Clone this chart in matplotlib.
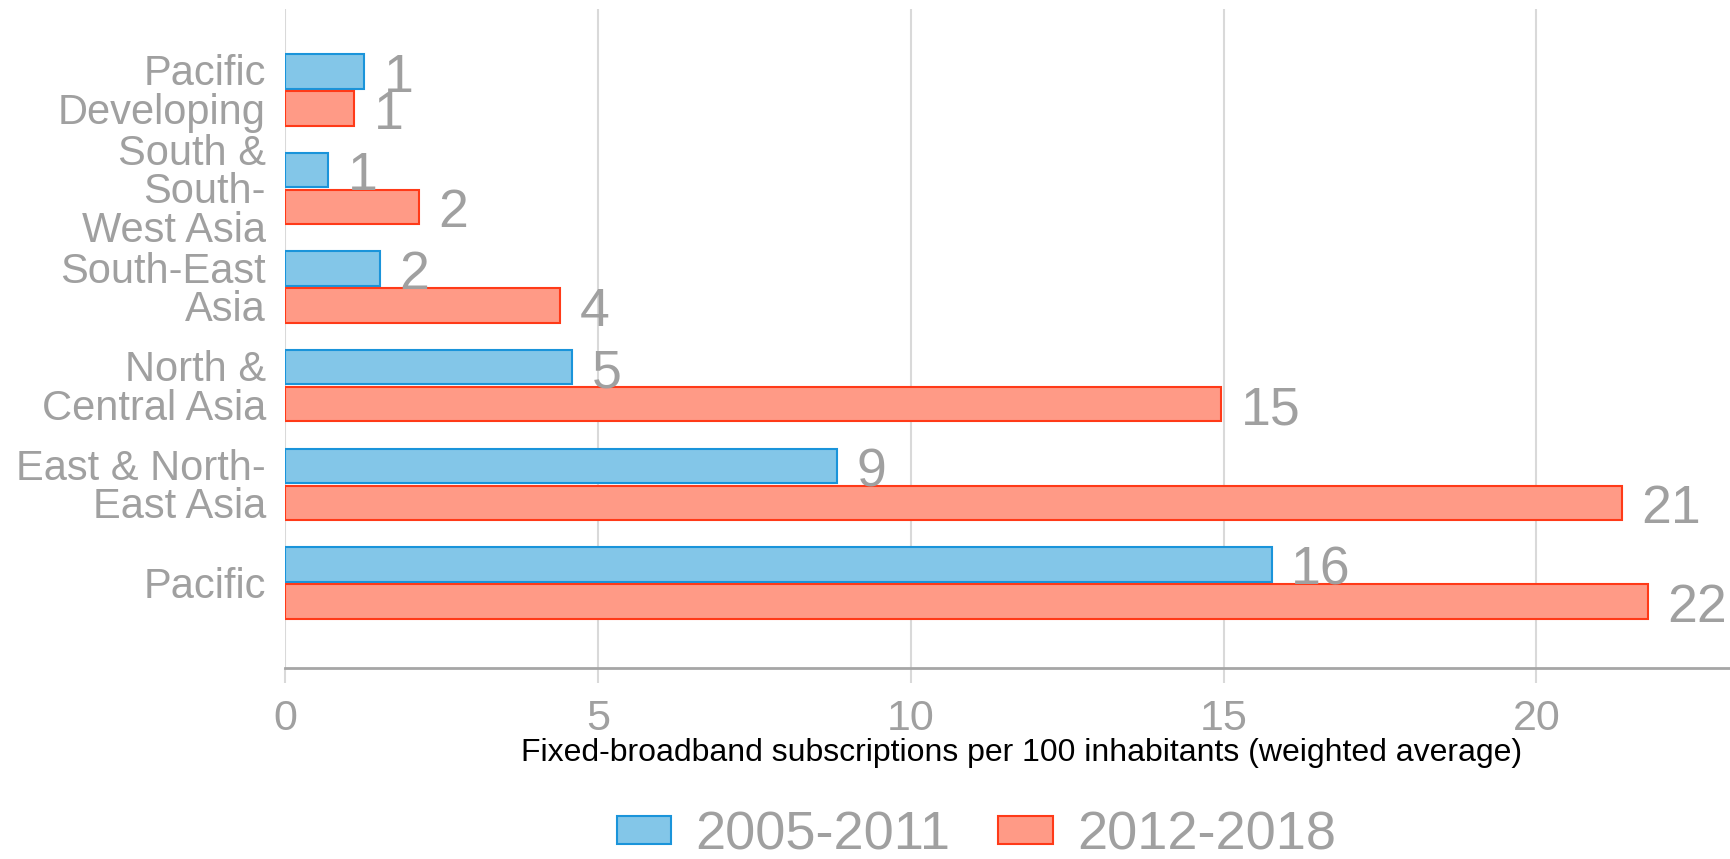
import numpy as np
import matplotlib.pyplot as plt

plt.rcParams['font.family'] = ['Liberation Sans', 'DejaVu Sans']

categories = ['Pacific\nDeveloping', 'South &\nSouth-\nWest Asia', 'South-East\nAsia',
              'North &\nCentral Asia', 'East & North-\nEast Asia', 'Pacific']
vals_2005_2011 = [1.26, 0.69, 1.51, 4.59, 8.82, 15.77]
vals_2012_2018 = [1.10, 2.13, 4.40, 14.96, 21.37, 21.79]
series_names = ['2005-2011', '2012-2018']
x_ticks = [0, 5, 10, 15, 20]

blue_fill, blue_edge = '#83c6e8', '#1a94da'
red_fill, red_edge = '#ff9a86', '#ff3a18'
gray = '#a0a0a0'

fig = plt.figure(figsize=(17.31, 8.59), dpi=100)
ax = fig.add_axes([0.1648, 0.2224, 0.9034, 0.7671])

y = np.arange(len(categories))
h = 0.348
off = 0.1877

b1 = ax.barh(y - off, vals_2005_2011, height=h, color=blue_fill, edgecolor=blue_edge,
             linewidth=1.5, label=series_names[0], zorder=3)
b2 = ax.barh(y + off, vals_2012_2018, height=h, color=red_fill, edgecolor=red_edge,
             linewidth=1.5, label=series_names[1], zorder=3)

# value labels, rounded like the original
for bars, vals in [(b1, vals_2005_2011), (b2, vals_2012_2018)]:
    for rect, v in zip(bars, vals):
        ax.annotate(f'{v:.0f}', (rect.get_width(), rect.get_y() + rect.get_height() / 2),
                    xytext=(14, -4.5), textcoords='offset points', ha='left', va='center',
                    fontsize=38.5, color=gray, annotation_clip=False)

ax.set_xlim(0, 25)
ax.set_ylim(5.863, -0.82)
ax.set_xticks(x_ticks)
ax.set_xticklabels([str(t) for t in x_ticks])
ax.set_yticks(y)
ax.set_yticklabels(categories, linespacing=0.95)

ax.grid(axis='x', color='#d9d9d9', linewidth=1.5, zorder=0)
for s in ['top', 'right', 'left']:
    ax.spines[s].set_visible(False)
ax.spines['bottom'].set_color('#a6a6a6')
ax.spines['bottom'].set_linewidth(2)
ax.spines['bottom'].set_zorder(4)

ax.tick_params(axis='x', length=11, width=1.5, color='#d9d9d9', labelsize=31,
               labelcolor=gray, pad=11)
ax.tick_params(axis='y', length=0, labelsize=30, labelcolor=gray, pad=14)

fig.text(0.590, 1 - 753 / 859, 'Fixed-broadband subscriptions per 100 inhabitants (weighted average)',
         ha='center', va='center', fontsize=23, color='black')

fig.legend(handles=[b1, b2], labels=series_names, loc='center', bbox_to_anchor=(0.564, 1 - 835 / 859),
           ncol=2, frameon=False, fontsize=39, labelcolor=gray, handlelength=1.0,
           handleheight=0.42, handletextpad=0.45, columnspacing=0.89)

fig.savefig('out.png', dpi=100)
